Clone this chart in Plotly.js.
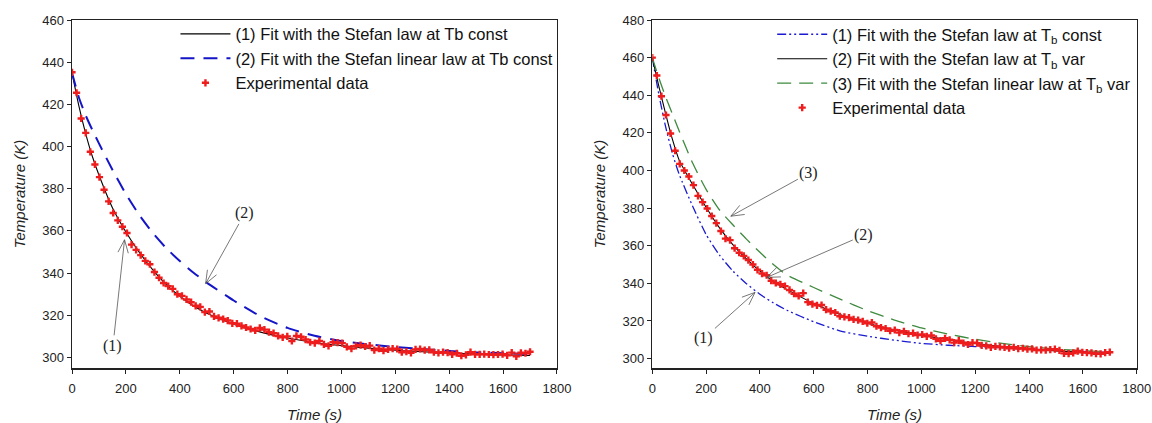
<!DOCTYPE html>
<html>
<head>
<meta charset="utf-8">
<script src="https://cdn.plot.ly/plotly-3.0.1.min.js"></script>
<style>html,body{margin:0;padding:0;background:#fff;}#chart{width:1152px;height:423px;}</style>
</head>
<body>
<div id="chart"></div>
<script>
// ---------- data ----------
const expTime = [0,17,34,51,68,85,102,119,136,153,170,187,204,221,238,255,272,289,306,323,340,357,374,391,408,425,442,459,476,493,510,527,544,561,578,595,612,629,646,663,680,697,714,731,748,765,782,799,816,833,850,867,884,901,918,935,952,969,986,1003,1020,1037,1054,1071,1088,1105,1122,1139,1156,1173,1190,1207,1224,1241,1258,1275,1292,1309,1326,1343,1360,1377,1394,1411,1428,1445,1462,1479,1496,1513,1530,1547,1564,1581,1598,1615,1632,1649,1666,1683,1700];

const expLeft = [435.2,425.5,413.3,406.5,397.5,391.5,385.5,379.5,374,368.5,365,362,359,353.5,351,348.5,345.8,344.2,340.5,337.8,335.3,333.8,332.5,330,329.2,327.5,326.2,324.5,324,321.5,321.8,319.5,318.8,318.2,317.5,316.2,316,315,314.2,313.5,312.8,314,313.2,312,311.5,310.2,309.5,310,307.8,310.2,309.8,308.5,307.2,306.8,307.8,306.2,305.5,307.2,307,306.8,305,304.2,305.5,305.8,305.2,305.6,303.5,304.2,303.2,303.8,304.2,304,302.5,302.8,302.2,303.8,304,303.5,303.6,302.5,302.2,302.5,302.3,301.5,302,300.8,301.2,302.5,301.5,301.5,301.6,301.4,301.3,301.4,301.6,301,302.3,300.5,302.2,302,302.7];

const expRight = [460,450.5,439.5,429.5,419.7,410.5,403.5,400,396.8,392.2,386.5,383.2,379.8,375.8,372,367.8,363.8,363,358.7,356.3,354.6,352.4,350,347.2,345.2,344.3,341.4,340.2,339.5,338.5,336.5,334.5,333.3,334.8,330,329,328.3,328.5,326,325.2,324.5,322.5,322.2,321.8,320.8,320.5,319.8,318.8,319.2,317.2,316.5,316,314.8,315.2,313.8,314.5,313.2,313.5,312.5,312.8,311.8,312.3,310.5,309.5,310.8,310,308.5,309.5,308.3,307.5,308.5,308.2,307,306.8,306,306.5,306.2,306,305.5,306,305.3,305.5,305,305.2,304.5,304.6,304.5,304.8,305,304.4,302.8,302.6,303,304,303.3,303.2,303,302.6,302.5,303.2,303.4];

const fitTime = [0,25,50,75,100,150,200,250,300,350,400,450,500,600,700,800,900,1000,1100,1200,1300,1400,1500,1600,1700];
const leftStefan = [435,419.5,406.5,395.5,386.5,371,359.5,349.8,341.5,334.5,329,324.5,321,315.8,312,309.2,307.1,305.6,304.4,303.4,302.7,302.1,301.6,301.2,300.9];
const leftLinear = [435,423.5,415,408,401.5,389,377.5,367.5,359,351.8,345.7,340.3,335.5,327,319.5,314,310.3,307.8,306.2,305,304,303.1,302.4,302,301.6];
const rightConst = [460,440,423,409,398,381,366,355,346.5,339.8,334.2,329.6,325.7,319.6,314.6,311.9,309.8,308.1,307.1,306.4,305.7,305,304.4,303.8,303.2];
const rightVar = [460,444.5,430,416.5,405.5,392.5,380.5,369.5,360.5,353,346.5,341,336.8,329.3,323.3,318.8,315.2,312.4,310,308,306.4,305.1,304.1,303.3,302.7];
const rightLinearVar = [460,449,439,430,421,404,390,379,371,363.5,356.5,350,344.5,337.8,331.5,325.5,320.5,316.3,313,310.3,308.1,306.4,305.1,304.2,303.6];

const leftNames = ['(1) Fit with the Stefan law at Tb const','(2) Fit with the Stefan linear law at Tb const','Experimental data'];
const rightNames = ['(1) Fit with the Stefan law at T<sub>b</sub> const','(2) Fit with the Stefan law at T<sub>b</sub> var','(3) Fit with the Stefan linear law at T<sub>b</sub> var','Experimental data'];
const xTitle = 'Time (s)';
const yTitle = 'Temperature (K)';
const xRange = [0,1800];
const yRangeLeft = [295,460];
const yRangeRight = [295,480];

// callouts: [label, tipTime, tipTemp, labelTime, labelTemp]
const leftCallouts = [['(1)',195,355.8,152,305.5],['(2)',496,335,641,368.3]];
const rightCallouts = [['(1)',382,335.2,192,310.8],['(2)',426,343.2,786,365.6],['(3)',292,375.7,582,398.6]];

// ---------- styles ----------
const W = 1152, H = 423;
const M = {l:0, r:0, t:20, b:55};
const domL = [0.0625, 0.4835], domR = [0.5662, 0.9867];
const FONT = 'Arial, "Liberation Sans", sans-serif';
const SERIF = '"Times New Roman", "Liberation Serif", serif';
const RED = '#ee1c1c';

const lineStyle = {shape:'spline', smoothing:0.6};
const traces = [
  {x:fitTime, y:leftStefan, name:leftNames[0], mode:'lines', line:Object.assign({color:'#000', width:1.1}, lineStyle), xaxis:'x', yaxis:'y', legend:'legend'},
  {x:fitTime, y:leftLinear, name:leftNames[1], mode:'lines', line:Object.assign({color:'#1515c8', width:2, dash:'14px,9px'}, lineStyle), xaxis:'x', yaxis:'y', legend:'legend'},
  {x:expTime, y:expLeft, name:leftNames[2], mode:'markers', marker:{symbol:'cross', size:6, color:RED, line:{width:0}}, xaxis:'x', yaxis:'y', legend:'legend'},
  {x:fitTime, y:rightConst, name:rightNames[0], mode:'lines', line:Object.assign({color:'#1a1ad0', width:1.3, dash:'9px,3px,2px,3px,2px,3px'}, lineStyle), xaxis:'x2', yaxis:'y2', legend:'legend2'},
  {x:fitTime, y:rightVar, name:rightNames[1], mode:'lines', line:Object.assign({color:'#000', width:1.1}, lineStyle), xaxis:'x2', yaxis:'y2', legend:'legend2'},
  {x:fitTime, y:rightLinearVar, name:rightNames[2], mode:'lines', line:Object.assign({color:'#3e8a3e', width:1.3, dash:'14px,8px'}, lineStyle), xaxis:'x2', yaxis:'y2', legend:'legend2'},
  {x:expTime, y:expRight, name:rightNames[3], mode:'markers', marker:{symbol:'cross', size:6, color:RED, line:{width:0}}, xaxis:'x2', yaxis:'y2', legend:'legend2'}
];

function xAx(dom, anchor){
  return {domain:dom, anchor:anchor, range:xRange, dtick:200, tick0:0, ticks:'outside', ticklen:4, tickwidth:1, tickcolor:'#222',
    showline:true, linecolor:'#222', linewidth:1.5, mirror:true, showgrid:false, zeroline:false,
    tickfont:{family:FONT, size:13, color:'#222'}, ticklabelstandoff:4,
    title:{text:xTitle, font:{family:FONT, size:15, style:'italic', color:'#222'}, standoff:18}};
}
function yAx(range, anchor){
  return {domain:[0,1], anchor:anchor, range:range, dtick:20, tick0:0, ticks:'outside', ticklen:4, tickwidth:1, tickcolor:'#222',
    showline:true, linecolor:'#222', linewidth:1.5, mirror:true, showgrid:false, zeroline:false,
    tickfont:{family:FONT, size:13, color:'#222'},
    title:{text:yTitle, font:{family:FONT, size:15, style:'italic', color:'#222'}, standoff:13}};
}

const plotW = W - M.l - M.r, plotH = H - M.t - M.b;
const annotations = [], shapes = [];
function callouts(list, xr, yr, dom, yRange){
  const pxX = plotW*(dom[1]-dom[0])/(xRange[1]-xRange[0]);
  const pxY = plotH/(yRange[1]-yRange[0]);
  list.forEach(c => {
    const [label, tx, ty, lx, ly] = c;
    annotations.push({xref:xr, yref:yr, axref:xr, ayref:yr, x:tx, y:ty, ax:lx, ay:ly, text:label, showarrow:true,
      arrowhead:0, arrowwidth:0.8, arrowcolor:'#555', standoff:0, startstandoff:0,
      font:{family:SERIF, size:16, color:'#222'}});
    // open V arrowhead drawn as a path in the axis coordinates
    let dx = (lx - tx)*pxX, dy = (ly - ty)*pxY;
    const len = Math.hypot(dx, dy); dx/=len; dy/=len;
    const pts = [0.38, -0.38].map(a => {
      const rx = dx*Math.cos(a) - dy*Math.sin(a), ry = dx*Math.sin(a) + dy*Math.cos(a);
      return [tx + rx*14/pxX, ty + ry*14/pxY];
    });
    shapes.push({type:'path', xref:xr, yref:yr,
      path:`M${pts[0][0]},${pts[0][1]} L${tx},${ty} L${pts[1][0]},${pts[1][1]}`,
      line:{color:'#555', width:0.8}});
  });
}
callouts(leftCallouts,'x','y',domL,yRangeLeft);
callouts(rightCallouts,'x2','y2',domR,yRangeRight);

const layout = {
  width:W, height:H, margin:M, paper_bgcolor:'#fff', plot_bgcolor:'#fff',
  xaxis:xAx(domL,'y'), yaxis:yAx(yRangeLeft,'x'),
  xaxis2:xAx(domR,'y2'), yaxis2:yAx(yRangeRight,'x2'),
  legend:{x:0.1523, y:1.0096, xanchor:'left', yanchor:'top', bgcolor:'rgba(0,0,0,0)', font:{family:FONT, size:16.5, color:'#111'}, itemwidth:50, tracegroupgap:0},
  legend2:{x:0.6703, y:1.0085, xanchor:'left', yanchor:'top', bgcolor:'rgba(0,0,0,0)', font:{family:FONT, size:16.5, color:'#111'}, itemwidth:50, tracegroupgap:0},
  annotations:annotations, shapes:shapes,
  showlegend:true
};

Plotly.newPlot('chart', traces, layout, {staticPlot:true, displayModeBar:false});
</script>
</body>
</html>
